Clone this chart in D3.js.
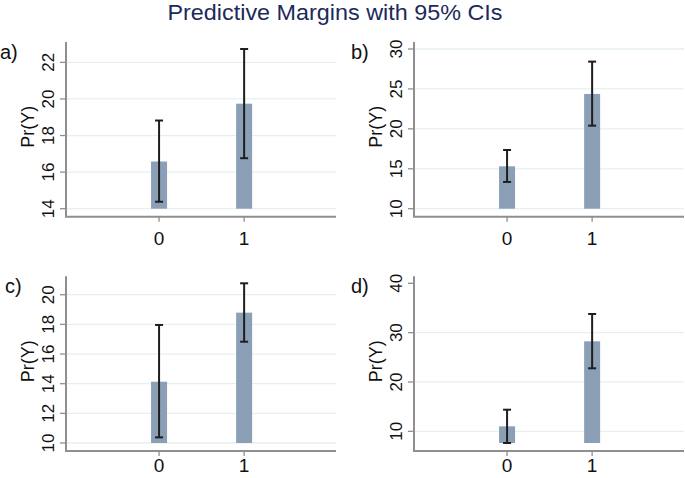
<!DOCTYPE html>
<html>
<head>
<meta charset="utf-8">
<script src="https://cdn.jsdelivr.net/npm/d3@7"></script>
<style>
  html, body { margin: 0; padding: 0; background: #fff; }
  svg { display: block; font-family: "Liberation Sans", Arial, sans-serif; }
</style>
</head>
<body>
<svg id="chart" width="685" height="478"></svg>
<script>
// ---- data ----
const title = "Predictive Margins with 95% CIs";
const panelLabels = ["a)", "b)", "c)", "d)"];
const categories = [0, 1];
const yLabel = "Pr(Y)";

const marginsA = [16.58, 19.74];
const lowerA   = [14.38, 16.76];
const upperA   = [18.82, 22.73];
const ticksA   = [14, 16, 18, 20, 22];

const marginsB = [15.31, 24.37];
const lowerB   = [13.35, 20.40];
const upperB   = [17.35, 28.42];
const ticksB   = [10, 15, 20, 25, 30];

const marginsC = [14.13, 18.79];
const lowerC   = [10.38, 16.83];
const upperC   = [17.96, 20.77];
const ticksC   = [10, 12, 14, 16, 18, 20];

const marginsD = [11.01, 28.24];
const lowerD   = [7.63, 22.77];
const upperD   = [14.38, 33.78];
const ticksD   = [10, 20, 30, 40];
const gridD    = [10, 20, 30];

// ---- layout ----
const svg = d3.select("#chart");
const panels = [
  {label: panelLabels[0], m: marginsA, lo: lowerA, hi: upperA, ticks: ticksA, grid: ticksA, ax: 66,  top: 49,    bot: 208.7, labX: 0, xlabDy: 28},
  {label: panelLabels[1], m: marginsB, lo: lowerB, hi: upperB, ticks: ticksB, grid: ticksB, ax: 414, top: 49,    bot: 208.7, labX: 351, xlabDy: 28},
  {label: panelLabels[2], m: marginsC, lo: lowerC, hi: upperC, ticks: ticksC, grid: ticksC, ax: 66,  top: 283.3, bot: 443,   labX: 5, xlabDy: 21},
  {label: panelLabels[3], m: marginsD, lo: lowerD, hi: upperD, ticks: ticksD, grid: gridD,  ax: 414, top: 283.3, bot: 443,   labX: 351, xlabDy: 21}
];

const axisColor = "#8f8f8f";
const gridColor = "#e6eff1";
const barColor  = "#8ba0b6";
const ciColor   = "#1e1e1e";
const pad = 8;
const plotW = 270;
const barW = 16;
const capW = 8;

svg.append("text")
  .attr("x", 335).attr("y", 20)
  .attr("text-anchor", "middle")
  .attr("font-size", 22)
  .attr("fill", "#1c2a5a")
  .attr("textLength", 335)
  .attr("lengthAdjust", "spacingAndGlyphs")
  .text(title);

panels.forEach(p => {
  const yMin = Math.min(d3.min(p.ticks), d3.min(p.lo));
  const yMax = Math.max(d3.max(p.ticks), d3.max(p.hi));
  const y = d3.scaleLinear().domain([yMin, yMax]).range([p.bot, p.top]);
  const x = d3.scaleLinear().domain([-1.094, 2.08]).range([p.ax, p.ax + plotW]);
  const axisY = p.bot + pad;
  const g = svg.append("g");

  // gridlines
  g.selectAll("line.grid").data(p.grid).join("line")
    .attr("x1", p.ax).attr("x2", p.ax + plotW)
    .attr("y1", d => y(d)).attr("y2", d => y(d))
    .attr("stroke", gridColor).attr("stroke-width", 1.3);

  // bars
  g.selectAll("rect.bar").data(categories).join("rect")
    .attr("x", (d) => x(d) - barW / 2)
    .attr("width", barW)
    .attr("y", (d, i) => y(p.m[i]))
    .attr("height", (d, i) => y(yMin) - y(p.m[i]))
    .attr("fill", barColor);

  // CI
  categories.forEach((c, i) => {
    const cx = x(c);
    g.append("line").attr("x1", cx).attr("x2", cx)
      .attr("y1", y(p.lo[i])).attr("y2", y(p.hi[i]))
      .attr("stroke", ciColor).attr("stroke-width", 2);
    [p.lo[i], p.hi[i]].forEach(v => {
      g.append("line").attr("x1", cx - capW / 2).attr("x2", cx + capW / 2)
        .attr("y1", y(v)).attr("y2", y(v))
        .attr("stroke", ciColor).attr("stroke-width", 2);
    });
  });

  // y axis
  g.append("line").attr("x1", p.ax).attr("x2", p.ax)
    .attr("y1", p.top - pad + 1).attr("y2", axisY)
    .attr("stroke", axisColor).attr("stroke-width", 2);
  g.selectAll("line.yt").data(p.ticks).join("line")
    .attr("x1", p.ax - 6).attr("x2", p.ax)
    .attr("y1", d => y(d)).attr("y2", d => y(d))
    .attr("stroke", axisColor).attr("stroke-width", 1.3);
  g.selectAll("text.yt").data(p.ticks).join("text")
    .attr("transform", d => `translate(${p.ax - 12},${y(d)}) rotate(-90)`)
    .attr("text-anchor", "middle")
    .attr("font-size", 17)
    .attr("fill", "#111")
    .text(d => d);

  // x axis
  g.append("line").attr("x1", p.ax - 1).attr("x2", p.ax + plotW)
    .attr("y1", axisY).attr("y2", axisY)
    .attr("stroke", axisColor).attr("stroke-width", 2);
  g.selectAll("line.xt").data(categories).join("line")
    .attr("x1", d => x(d)).attr("x2", d => x(d))
    .attr("y1", axisY).attr("y2", axisY + 5)
    .attr("stroke", axisColor).attr("stroke-width", 1.3);
  g.selectAll("text.xt").data(categories).join("text")
    .attr("x", d => x(d)).attr("y", axisY + p.xlabDy)
    .attr("text-anchor", "middle")
    .attr("font-size", 19)
    .attr("fill", "#111")
    .text(d => d);

  // y label
  g.append("text")
    .attr("transform", `translate(${p.ax - 32},${(p.top - pad + axisY) / 2 - 2}) rotate(-90)`)
    .attr("text-anchor", "middle")
    .attr("font-size", 18)
    .attr("fill", "#111")
    .text(yLabel);

  // panel label
  g.append("text")
    .attr("x", p.labX).attr("y", p.top + 10)
    .attr("font-size", 20)
    .attr("fill", "#111")
    .text(p.label);
});
</script>
</body>
</html>
